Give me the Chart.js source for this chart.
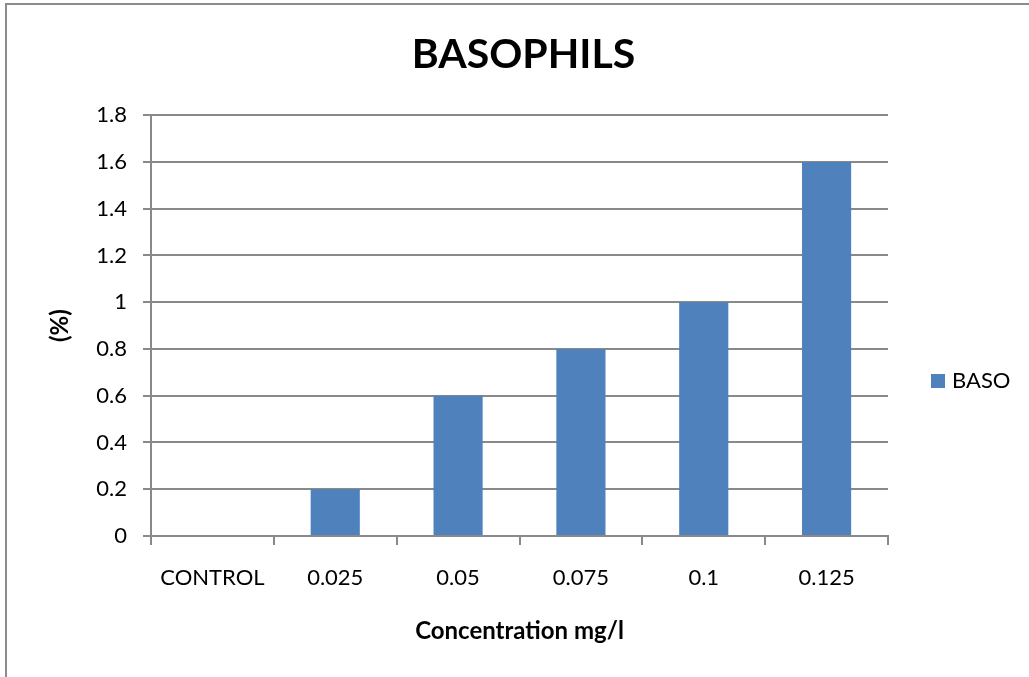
<!DOCTYPE html>
<html>
<head>
<meta charset="utf-8">
<script src="https://cdn.jsdelivr.net/npm/chart.js@4/dist/chart.umd.min.js"></script>
<style>
  html, body { margin: 0; padding: 0; background: #fff; overflow: hidden; }
  #frame { position: absolute; left: 5px; top: 3px; width: 2000px; height: 2000px; border: 2px solid #8c8c8c; }
  #chart { position: absolute; left: 0; top: 0; }
</style>
</head>
<body>
<div id="frame"></div>
<canvas id="chart" width="1029" height="677"></canvas>
<script>
  // --- data ---
  const categories = ['CONTROL', '0.025', '0.05', '0.075', '0.1', '0.125'];
  const basoValues = [0, 0.2, 0.6, 0.8, 1.0, 1.6];
  const yTickLabels = ['0', '0.2', '0.4', '0.6', '0.8', '1', '1.2', '1.4', '1.6', '1.8'];
  const seriesName = 'BASO';

  const gridColor = '#898989';
  const barColor = '#4f81bd';
  const fontFamily = 'Lato, "Open Sans", sans-serif';

  // simple legend on the right, same look as the original
  const sideLegend = {
    id: 'sideLegend',
    afterDraw(chart) {
      const ctx = chart.ctx;
      const area = chart.chartArea;
      const x = area.right + 43;
      const y = 381;
      chart.data.datasets.forEach((ds, i) => {
        ctx.save();
        ctx.fillStyle = ds.backgroundColor;
        ctx.fillRect(x, y - 7 + i * 30, 14, 14);
        ctx.fillStyle = '#000';
        ctx.font = '22px ' + fontFamily;
        ctx.textBaseline = 'middle';
        ctx.fillText(ds.label, x + 21, y + i * 30);
        ctx.restore();
      });
    }
  };

  new Chart(document.getElementById('chart'), {
    type: 'bar',
    data: {
      labels: categories,
      datasets: [{
        label: seriesName,
        data: basoValues,
        backgroundColor: barColor,
        borderWidth: 0,
        barPercentage: 1,
        categoryPercentage: 0.4
      }]
    },
    options: {
      responsive: false,
      animation: false,
      layout: { padding: { left: 18, right: 0, top: 0, bottom: 0 } },
      plugins: {
        legend: { display: false },
        tooltip: { enabled: false },
        title: {
          display: true,
          text: 'BASOPHILS',
          color: '#000',
          font: { family: fontFamily, size: 41, weight: 'bold' },
          padding: { top: 30, bottom: 36 }
        }
      },
      scales: {
        x: {
          offset: true,
          grid: {
            display: true,
            drawOnChartArea: false,
            drawTicks: true,
            tickLength: 9,
            color: gridColor,
            lineWidth: 2,
            offset: true
          },
          border: { display: true, color: gridColor, width: 2 },
          ticks: {
            color: '#000',
            padding: 20,
            maxRotation: 0,
            font: { family: fontFamily, size: 22 }
          },
          title: {
            display: true,
            text: 'Concentration mg/l',
            color: '#000',
            font: { family: fontFamily, size: 24, weight: 'bold' },
            padding: { top: 0, bottom: 31 }
          },
          afterFit: (s) => { s.height = 141; }
        },
        y: {
          min: 0,
          max: 1.8,
          ticks: {
            stepSize: 0.2,
            color: '#000',
            padding: 16,
            font: { family: fontFamily, size: 22 },
            callback: (v, i) => yTickLabels[i]
          },
          grid: {
            color: gridColor,
            lineWidth: 2,
            drawTicks: true,
            tickLength: 8
          },
          border: { display: true, color: gridColor, width: 2 },
          title: {
            display: true,
            text: '(%)',
            color: '#000',
            font: { family: fontFamily, size: 24, weight: 'bold' },
            padding: { top: 28, bottom: 0 }
          },
          afterFit: (s) => { s.width = 133; }
        },
        // empty axis that keeps the space for the legend on the right
        yRight: {
          position: 'right',
          display: true,
          grid: { display: false },
          border: { display: false },
          ticks: { display: false },
          afterFit: (s) => { s.width = 141; }
        }
      }
    },
    plugins: [sideLegend]
  });
</script>
</body>
</html>
